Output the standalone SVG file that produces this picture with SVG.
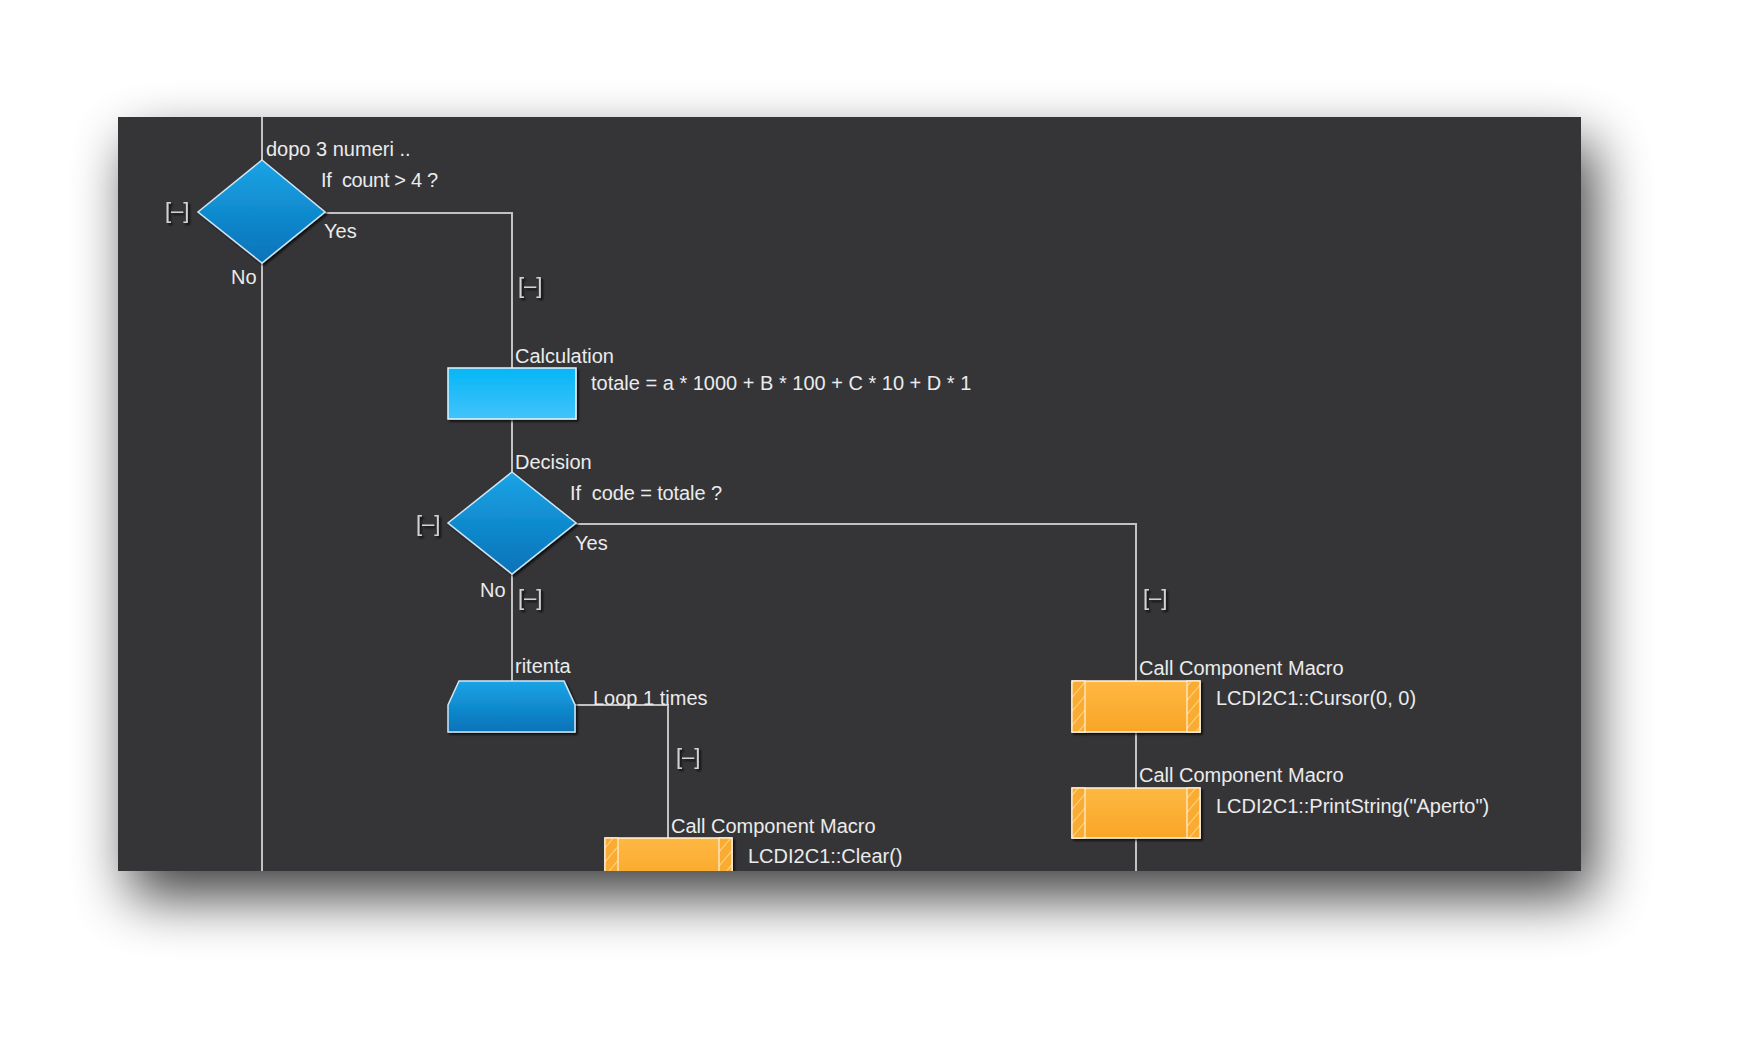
<svg xmlns="http://www.w3.org/2000/svg" width="1763" height="1037" viewBox="0 0 1763 1037">
  <defs>
    <filter id="panelShadow" x="-10%" y="-15%" width="125%" height="140%">
      <feGaussianBlur in="SourceAlpha" stdDeviation="28"/>
      <feOffset dx="12" dy="26" result="b"/>
      <feComponentTransfer><feFuncA type="linear" slope="0.75"/></feComponentTransfer>
      <feMerge><feMergeNode/><feMergeNode in="SourceGraphic"/></feMerge>
    </filter>
    <filter id="nodeShadow" x="-10%" y="-10%" width="125%" height="130%">
      <feGaussianBlur in="SourceAlpha" stdDeviation="1.2"/>
      <feOffset dx="2" dy="2"/>
      <feComponentTransfer><feFuncA type="linear" slope="0.7"/></feComponentTransfer>
      <feMerge><feMergeNode/><feMergeNode in="SourceGraphic"/></feMerge>
    </filter>
    <filter id="textShadow" x="-20%" y="-20%" width="150%" height="150%">
      <feGaussianBlur in="SourceAlpha" stdDeviation="0.8"/>
      <feOffset dx="1.5" dy="1.5"/>
      <feComponentTransfer><feFuncA type="linear" slope="0.8"/></feComponentTransfer>
      <feMerge><feMergeNode/><feMergeNode in="SourceGraphic"/></feMerge>
    </filter>
    <linearGradient id="gDiamond" x1="0" y1="0" x2="0" y2="1">
      <stop offset="0" stop-color="#1ba4e6"/>
      <stop offset="1" stop-color="#0672b8"/>
    </linearGradient>
    <linearGradient id="gCalc" x1="0" y1="0" x2="0" y2="1">
      <stop offset="0" stop-color="#05b6f6"/>
      <stop offset="1" stop-color="#43c3fb"/>
    </linearGradient>
    <linearGradient id="gOrange" x1="0" y1="0" x2="0" y2="1">
      <stop offset="0" stop-color="#ffb843"/>
      <stop offset="1" stop-color="#f8a526"/>
    </linearGradient>
    <pattern id="hatch" patternUnits="userSpaceOnUse" width="9" height="9" patternTransform="rotate(40)">
      <rect width="9" height="9" fill="#f9ab30"/>
      <line x1="0" y1="0" x2="0" y2="9" stroke="#ffe2a8" stroke-width="1.6"/>
    </pattern>
    <clipPath id="panelClip"><rect x="118" y="117" width="1463" height="754"/></clipPath>
    <style>
      .lbl { font-family: "Liberation Sans", Arial, sans-serif; font-size: 20px; fill: #ebebeb; white-space: pre; }
      .br { font-family: "Liberation Sans", Arial, sans-serif; font-size: 22px; fill: #d2d2d2; }
      .conn { stroke: #c2c2c2; stroke-width: 2; fill: none; }
      .dia { fill: url(#gDiamond); stroke: #cfe6f5; stroke-width: 1.5; }
      .calc { fill: url(#gCalc); stroke: #e6f4fb; stroke-width: 1.5; }
      .macro { fill: url(#gOrange); stroke: #fff2dc; stroke-width: 1.5; }
      .strip { fill: url(#hatch); stroke: #fff2dc; stroke-width: 1.2; }
    </style>
  </defs>

  <rect width="1763" height="1037" fill="#ffffff"/>
  <rect id="panel" x="118" y="117" width="1463" height="754" fill="#353439" filter="url(#panelShadow)"/>

  <g clip-path="url(#panelClip)">
    <g id="connectors">
      <path class="conn" d="M262,117 V160"/>
      <path class="conn" d="M262,263 V871"/>
      <path class="conn" d="M325,213 H512 V368"/>
      <path class="conn" d="M512,419 V472"/>
      <path class="conn" d="M576,524 H1136 V681"/>
      <path class="conn" d="M512,574 V681"/>
      <path class="conn" d="M575,705 H668 V838"/>
      <path class="conn" d="M1136,732 V788"/>
      <path class="conn" d="M1136,838 V871"/>
      <text class="br" x="518" y="293" filter="url(#textShadow)">[–]</text>
      <text class="br" x="518" y="605" filter="url(#textShadow)">[–]</text>
      <text class="br" x="1143" y="605" filter="url(#textShadow)">[–]</text>
      <text class="br" x="676" y="764" filter="url(#textShadow)">[–]</text>
    </g>

    <g id="decision1">
      <polygon class="dia" points="262,160 325,212 262,263 198,212" filter="url(#nodeShadow)"/>
      <text class="lbl" x="266" y="156">dopo 3 numeri ..</text>
      <text class="lbl" x="321" y="187" textLength="117" lengthAdjust="spacing">If  count &gt; 4 ?</text>
      <text class="lbl" x="324" y="238">Yes</text>
      <text class="lbl" x="231" y="284">No</text>
      <text class="br" x="165" y="218" filter="url(#textShadow)">[–]</text>
    </g>

    <g id="calculation">
      <rect class="calc" x="448" y="368" width="128" height="51" filter="url(#nodeShadow)"/>
      <text class="lbl" x="515" y="363">Calculation</text>
      <text class="lbl" x="591" y="390">totale = a * 1000 + B * 100 + C * 10 + D * 1</text>
    </g>

    <g id="decision2">
      <polygon class="dia" points="512,472 576,523 512,574 448,523" filter="url(#nodeShadow)"/>
      <text class="lbl" x="515" y="469">Decision</text>
      <text class="lbl" x="570" y="500" textLength="152" lengthAdjust="spacing">If  code = totale ?</text>
      <text class="lbl" x="575" y="550">Yes</text>
      <text class="lbl" x="480" y="597">No</text>
      <text class="br" x="416" y="531" filter="url(#textShadow)">[–]</text>
    </g>

    <g id="loop">
      <polygon class="dia" points="459,681 564,681 575,705 575,732 448,732 448,705" filter="url(#nodeShadow)"/>
      <text class="lbl" x="515" y="673">ritenta</text>
      <text class="lbl" x="593" y="705">Loop 1 times</text>
    </g>

    <g id="macroClear">
      <g filter="url(#nodeShadow)">
        <rect class="macro" x="605" y="838" width="127" height="51"/>
        <rect class="strip" x="605" y="838" width="13" height="51"/>
        <rect class="strip" x="719" y="838" width="13" height="51"/>
      </g>
      <text class="lbl" x="671" y="833">Call Component Macro</text>
      <text class="lbl" x="748" y="863">LCDI2C1::Clear()</text>
    </g>

    <g id="macroCursor">
      <g filter="url(#nodeShadow)">
        <rect class="macro" x="1072" y="681" width="128" height="51"/>
        <rect class="strip" x="1072" y="681" width="13" height="51"/>
        <rect class="strip" x="1187" y="681" width="13" height="51"/>
      </g>
      <text class="lbl" x="1139" y="675">Call Component Macro</text>
      <text class="lbl" x="1216" y="705">LCDI2C1::Cursor(0, 0)</text>
    </g>

    <g id="macroPrint">
      <g filter="url(#nodeShadow)">
        <rect class="macro" x="1072" y="788" width="128" height="50"/>
        <rect class="strip" x="1072" y="788" width="13" height="50"/>
        <rect class="strip" x="1187" y="788" width="13" height="50"/>
      </g>
      <text class="lbl" x="1139" y="782">Call Component Macro</text>
      <text class="lbl" x="1216" y="813">LCDI2C1::PrintString(&quot;Aperto&quot;)</text>
    </g>
  </g>
</svg>
